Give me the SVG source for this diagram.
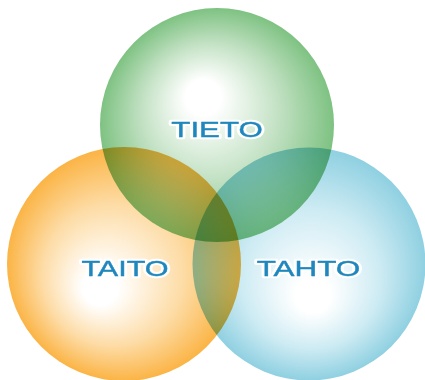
<svg xmlns="http://www.w3.org/2000/svg" width="425" height="380" viewBox="0 0 425 380">
  <defs>
    <radialGradient id="gGreen" cx="0.5" cy="0.5" r="0.5" fx="0.43" fy="0.36">
      <stop offset="0" stop-color="#ffffff"/>
      <stop offset="0.15" stop-color="#ffffff"/>
      <stop offset="0.6" stop-color="#c0e0c1"/>
      <stop offset="1" stop-color="#7ec282"/>
    </radialGradient>
    <radialGradient id="gOrange" cx="0.5" cy="0.5" r="0.5" fx="0.38" fy="0.62">
      <stop offset="0" stop-color="#ffffff"/>
      <stop offset="0.15" stop-color="#ffffff"/>
      <stop offset="0.6" stop-color="#fddca6"/>
      <stop offset="1" stop-color="#fbb445"/>
    </radialGradient>
    <radialGradient id="gBlue" cx="0.5" cy="0.5" r="0.5" fx="0.52" fy="0.66">
      <stop offset="0" stop-color="#ffffff"/>
      <stop offset="0.15" stop-color="#ffffff"/>
      <stop offset="0.6" stop-color="#cdebf3"/>
      <stop offset="1" stop-color="#8fd0e1"/>
    </radialGradient>
  </defs>
  <style>
    .c { mix-blend-mode: multiply; }
    .halo { font-family: "Liberation Sans", Arial, sans-serif; font-size: 22px; text-anchor: middle; fill: #ffffff; stroke: #ffffff; stroke-width: 4.5; stroke-linejoin: round; }
    .lbl { font-family: "Liberation Sans", Arial, sans-serif; font-size: 22px; text-anchor: middle; fill: #1f87bd; stroke: #1f87bd; stroke-width: 0.4; }
  </style>
  <rect width="425" height="380" fill="#ffffff"/>
  <g id="taito">
    <circle class="c" cx="124" cy="264" r="117" fill="url(#gOrange)"/>
  </g>
  <g id="tahto">
    <circle class="c" cx="309" cy="264" r="116.5" fill="url(#gBlue)"/>
  </g>
  <g id="tieto">
    <circle class="c" cx="217" cy="125" r="117" fill="url(#gGreen)"/>
  </g>
  <g id="labels">
    <g transform="translate(217,137) scale(1.42,1)">
      <text class="halo" x="0" y="0">TIETO</text>
      <text class="lbl" x="0" y="0">TIETO</text>
    </g>
    <g transform="translate(125,276) scale(1.39,1)">
      <text class="halo" x="0" y="0">TAITO</text>
      <text class="lbl" x="0" y="0">TAITO</text>
    </g>
    <g transform="translate(308.5,276) scale(1.43,1)">
      <text class="halo" x="0" y="0">TAHTO</text>
      <text class="lbl" x="0" y="0">TAHTO</text>
    </g>
  </g>
</svg>
